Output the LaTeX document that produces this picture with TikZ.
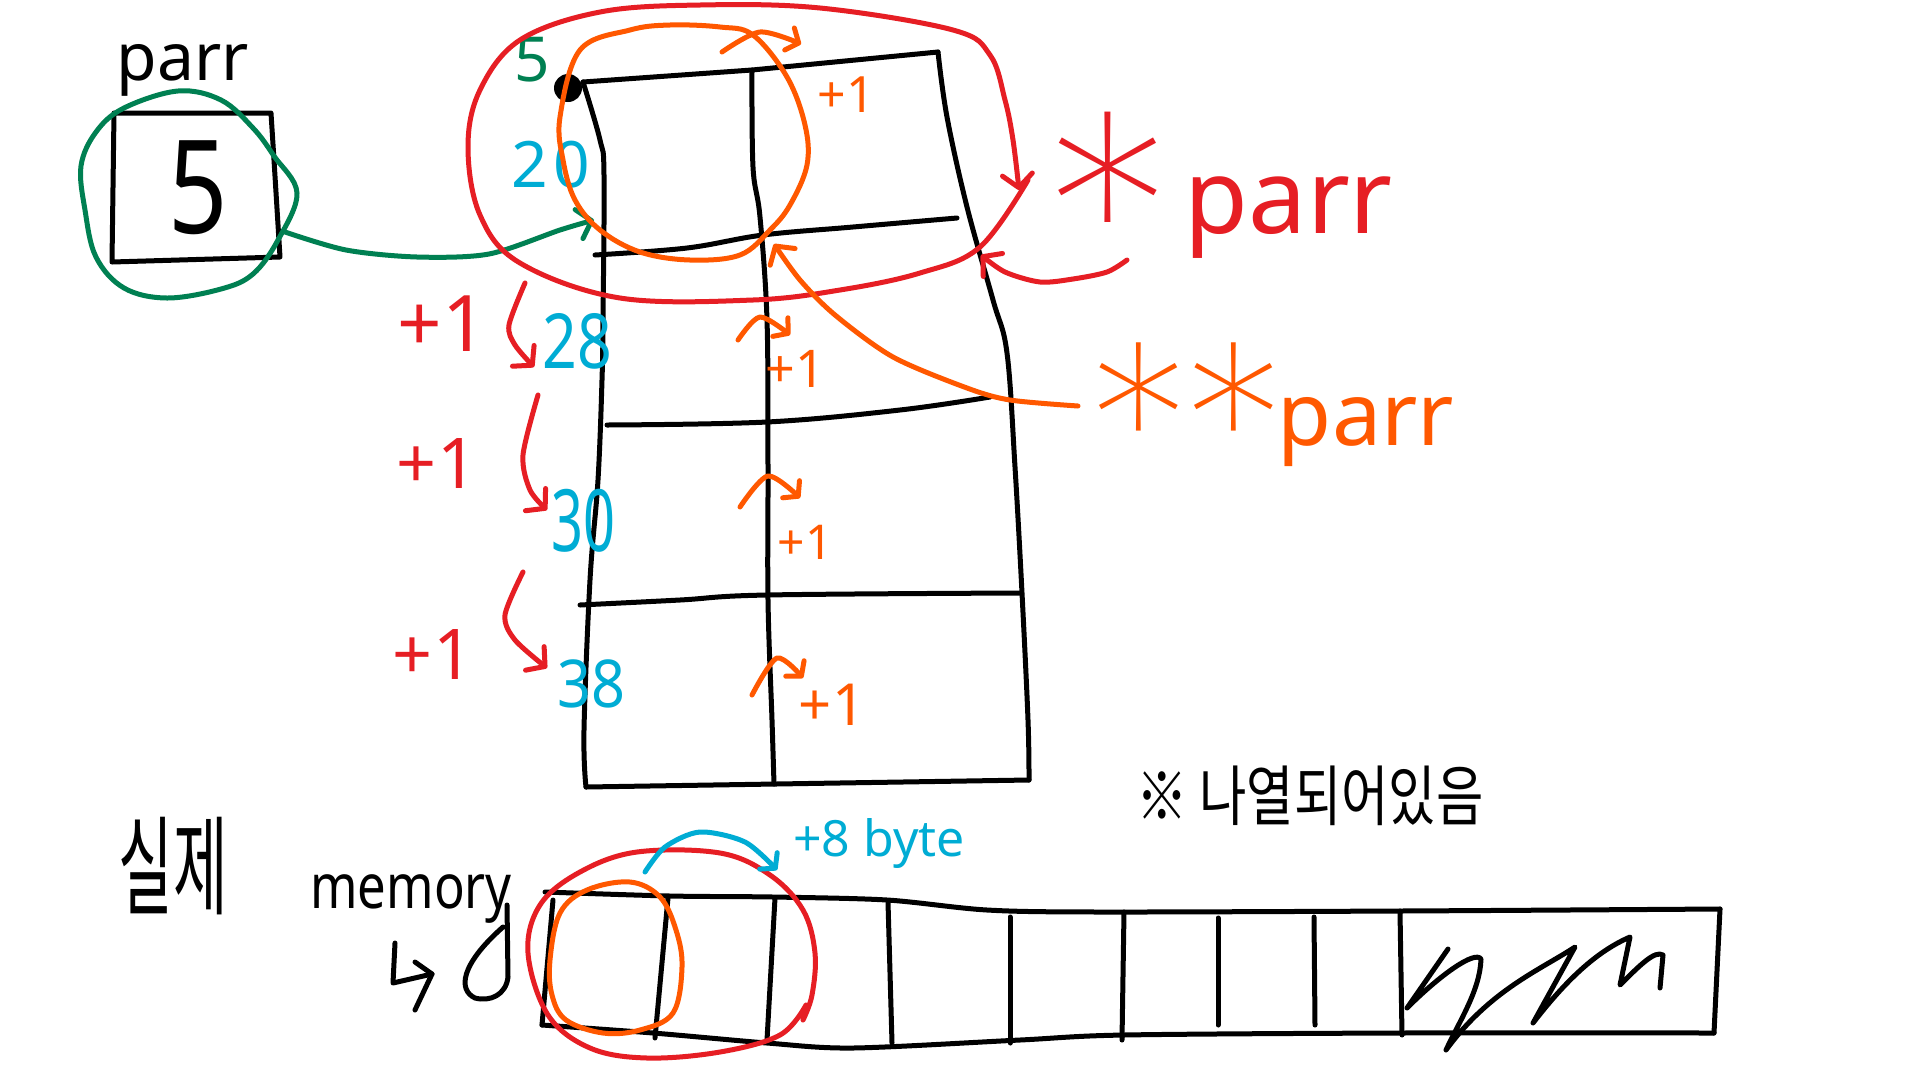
\documentclass[tikz,border=0pt]{standalone}
\usepackage{fontspec}
\usepackage{graphicx}
\setmainfont{Noto Sans}
\newfontfamily\krfont{Noto Sans CJK KR}
\IfFontExistsTF{Poppins Thin}{\newfontfamily\astfont{Poppins Thin}}{%
 \IfFontExistsTF{Lato Hairline}{\newfontfamily\astfont{Lato Hairline}}{%
  \IfFontExistsTF{Fira Sans Thin}{\newfontfamily\astfont{Fira Sans Thin}}{%
   \newfontfamily\astfont{Noto Sans}}}}
\usetikzlibrary{arrows.meta}
\definecolor{hred}{RGB}{230,30,36}
\definecolor{horange}{RGB}{255,88,0}
\definecolor{hgreen}{RGB}{0,128,82}
\definecolor{hcyan}{RGB}{0,172,212}
\newcommand{\fs}[1]{\fontsize{#1}{#1}\selectfont}
\newcommand{\hsq}[2]{\scalebox{#1}[1]{#2}}
\tikzset{
  pen/.style={line width=5pt,line cap=round,line join=round},
  barb/.style={-{Straight Barb[length=13pt,width=30pt,round]}},
  sbarb/.style={-{Straight Barb[length=10pt,width=24pt,round]}},
  txt/.style={inner sep=0pt,outer sep=0pt},
}
\begin{document}
\begin{tikzpicture}[x=1pt,y=-1pt]
\fill[white] (0,0) rectangle (1920,1080);
\useasboundingbox (0,0) rectangle (1920,1080);

% ---------- parr box ----------
\node[txt,font=\fs{66}] (lblparr) at (183,70) {parr};
\draw[pen] (114,113) -- (271,113) -- (274,160) -- (280,257) -- (112,262) -- cycle;
\node[txt,font=\fs{130}] (val) at (198,188) {\hsq{0.8}{5}};
\draw[pen,hgreen] plot[smooth cycle,tension=0.6] coordinates {(81,166) (96,132) (124,108) (178,91) (221,100) (253,128) (274,156) (297,193) (278,240) (253,274) (221,289) (167,298) (124,288) (96,257) (85,210)};
\coordinate (gstart) at (285,232);
\coordinate (gend) at (594,220);
\draw[pen,hgreen,barb] plot[smooth] coordinates {(gstart) (346,250) (417,257) (489,254) (560,230) (gend)};

% ---------- 2D array grid ----------
\draw[pen] (583,82) -- (752,70) -- (938,52);
\draw[pen] plot[smooth,tension=0.6] coordinates {(938,52) (947,117) (967,207) (993,300) (1007,353) (1015,467) (1022,593) (1028,720) (1029,780)};
\draw[pen] plot[smooth,tension=0.6] coordinates {(583,82) (600,140) (604,175) (603,320) (602,380) (598,480) (590,580) (584,730) (586,787)};
\draw[pen] (586,787) -- (1029,780);
\draw[pen] plot[smooth,tension=0.6] coordinates {(752,70) (753,167) (760,217) (767,320) (768,467) (768,600) (772,720) (774,784)};
\draw[pen] plot[smooth,tension=0.6] coordinates {(595,255) (687,248) (763,235) (853,227) (957,218)};
\draw[pen] plot[smooth,tension=0.6] coordinates {(607,425) (767,422) (900,410) (990,397)};
\draw[pen] plot[smooth,tension=0.6] coordinates {(580,605) (680,600) (767,595) (1020,593)};
\fill (568,88) circle (14);

\node[txt,font=\fs{62},text=hgreen] (g5) at (532,60) {5};
\node[txt,font=\fs{64},text=hcyan] (n20) at (551,165) {2\kern6pt0};
\node[txt,font=\fs{76},text=hcyan] (n28) at (577,341) {\hsq{0.8}{28}};
\node[txt,font=\fs{86},text=hcyan] (n30) at (583,521) {\hsq{0.65}{30}};
\node[txt,font=\fs{66},text=hcyan] (n38) at (591,684) {\hsq{0.9}{38}};

% red +1 and arrows
\node[txt,font=\fs{78},text=hred] (r1) at (442,324) {+1};
\node[txt,font=\fs{70},text=hred] (r2) at (437,463) {+1};
\node[txt,font=\fs{70},text=hred] (r3) at (433,654) {+1};
\draw[pen,hred,barb] plot[smooth] coordinates {(525,283) (509,325) (515,345) (534,367)};
\draw[pen,hred,barb] plot[smooth] coordinates {(538,395) (523,455) (530,490) (547,510)};
\draw[pen,hred,barb] plot[smooth] coordinates {(523,572) (505,615) (515,640) (547,668)};

% orange +1 and arrows
\node[txt,font=\fs{50},text=horange] (o1) at (846,95) {+1};
\node[txt,font=\fs{52},text=horange] (o2) at (795,369) {+1};
\node[txt,font=\fs{48},text=horange] (o3) at (805,542) {+1};
\node[txt,font=\fs{58},text=horange] (o4) at (832,705) {+1};
\draw[pen,horange,sbarb] plot[smooth] coordinates {(722,52) (760,32) (801,44)};
\draw[pen,horange,sbarb] plot[smooth] coordinates {(738,340) (760,317) (790,335)};
\draw[pen,horange,sbarb] plot[smooth] coordinates {(740,507) (768,476) (800,498)};
\draw[pen,horange,sbarb] plot[smooth] coordinates {(752,695) (777,658) (803,678)};

% orange circle (first element) and red loop (first row)
\draw[pen,horange] plot[smooth cycle,tension=0.6] coordinates {(560,117) (580,50) (630,30) (670,25) (720,27) (753,35) (787,77) (805,125) (807,165) (790,205) (770,230) (740,255) (690,260) (640,252) (600,230) (575,200) (563,160)};
\draw[pen,hred,barb] plot[smooth,tension=0.6] coordinates {(1028,180) (980,247) (920,273) (840,290) (753,300) (620,298) (520,263) (480,215) (468,147) (480,90) (520,40) (600,12) (700,5) (820,8) (953,30) (990,55) (1005,100) (1013,140) (1019,190)};

% labels *parr, **parr
\node[txt,anchor=base west,font=\fs{104},text=hred] (rlbl) at (1042,233) {\raisebox{-97pt}{\astfont\fs{300}*}\kern14pt parr};
\node[txt,anchor=base west,font=\fs{88},text=horange] (olbl) at (1086,445) {\raisebox{-72pt}{\astfont\fs{240}*\kern-8pt*}\kern-6pt parr};
\draw[pen,hred,barb] plot[smooth] coordinates {(1127,260) (1107,272) (1073,279) (1040,282) (1005,272) (981,255)};
\draw[pen,horange,barb] plot[smooth] coordinates {(1078,406) (1010,400) (967,388) (893,357) (835,315) (800,280) (774,244)};

% ---------- real memory ----------
\node[txt,font=\krfont\fs{108}] (real) at (173,866) {\hsq{0.55}{실제}};
\node[txt,anchor=base,font=\fs{62}] (mem) at (411,908) {\hsq{0.82}{memory}};
\draw[pen] (507,905) -- (508,977) .. controls (506,995) and (490,1002) .. (475,998) .. controls (458,990) and (460,965) .. (503,927);
\draw[pen] (395,943) -- (393,983) -- (432,974);
\draw[pen] (415,962) -- (432,974) -- (415,1010);

\draw[pen] plot[smooth,tension=0.5] coordinates {(545,892) (670,896) (773,897) (887,900) (987,910) (1100,912) (1400,911) (1720,909)};
\draw[pen] (553,900) -- (542,1025);
\draw[pen] plot[smooth,tension=0.5] coordinates {(542,1025) (653,1033) (767,1043) (853,1048) (1020,1040) (1124,1035) (1400,1033) (1714,1033)};
\draw[pen] (1720,909) -- (1714,1033);
\draw[pen] (668,898) -- (655,1038);
\draw[pen] (775,898) -- (767,1040);
\draw[pen] (888,902) -- (892,1043);
\draw[pen] (1010,917) -- (1010,1043);
\draw[pen] (1124,912) -- (1122,1040);
\draw[pen] (1218,918) -- (1218,1025);
\draw[pen] (1314,917) -- (1315,1025);
\draw[pen] (1400,911) -- (1402,1035);
\draw[pen] (1448,949) -- (1407,1008) .. controls (1440,975) and (1475,950) .. (1481,959) .. controls (1480,990) and (1460,1020) .. (1446,1050) .. controls (1490,990) and (1540,970) .. (1575,947) -- (1533,1023) .. controls (1570,975) and (1600,950) .. (1630,937) -- (1620,985) .. controls (1640,965) and (1655,950) .. (1663,955) -- (1660,988);

\draw[pen,hred] plot[smooth,tension=0.6] coordinates {(806,1005) (780,1035) (720,1052) (647,1058) (590,1048) (548,1015) (528,953) (540,905) (580,872) (637,852) (720,853) (770,875) (803,910) (815,953) (812,995) (803,1020)};
\draw[pen,horange] plot[smooth cycle,tension=0.6] coordinates {(550,960) (560,913) (587,890) (630,882) (660,897) (676,930) (682,967) (673,1013) (640,1030) (603,1033) (566,1020) (552,995)};
\draw[pen,hcyan,sbarb] plot[smooth] coordinates {(645,872) (665,847) (700,832) (745,842) (777,870)};
\node[txt,font=\fs{50},text=hcyan] (byte) at (879,843) {+8 byte};

\node[txt,font=\krfont\fs{66}] (note) at (1310,796) {\hsq{0.78}{※ 나열되어있음}};
\end{tikzpicture}
\end{document}
